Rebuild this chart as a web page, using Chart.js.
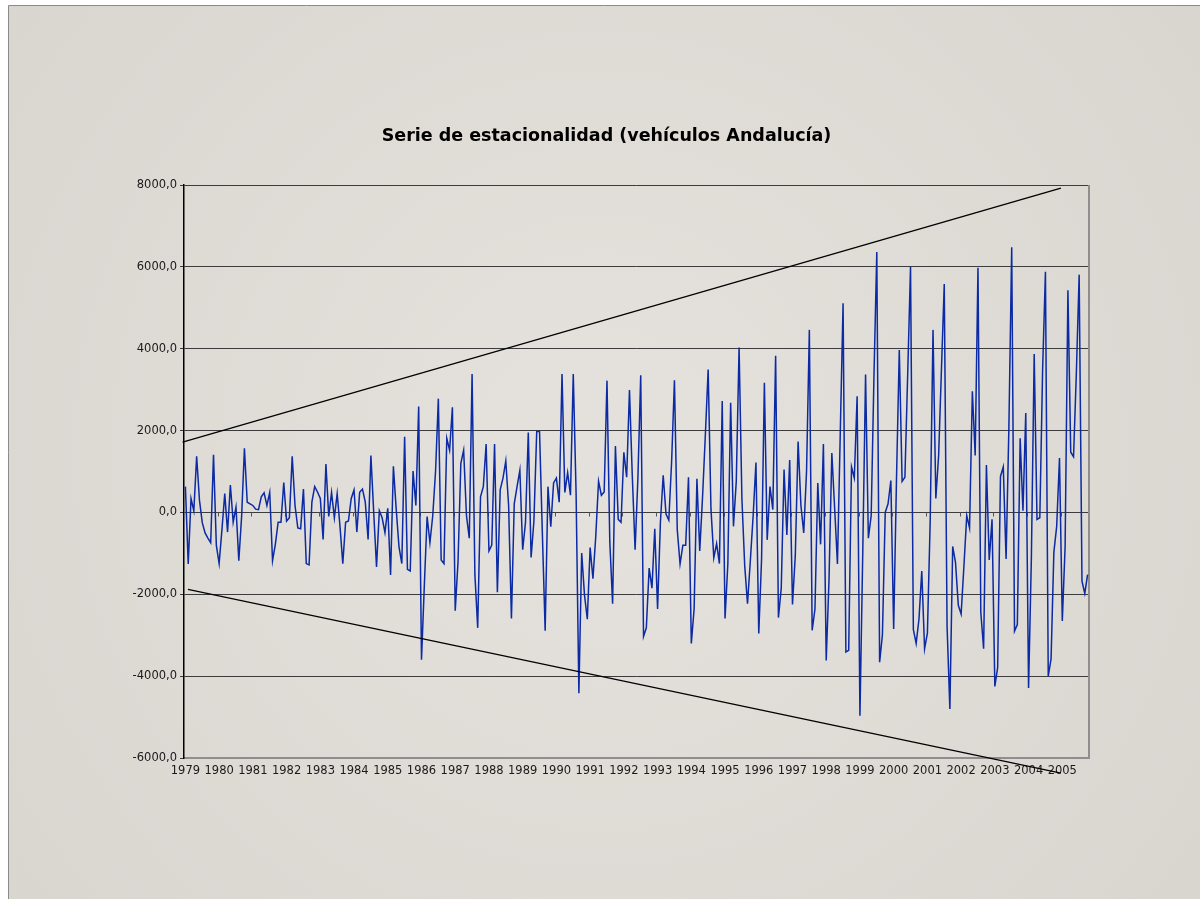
<!DOCTYPE html>
<html>
<head>
<meta charset="utf-8">
<script src="https://cdn.jsdelivr.net/npm/chart.js@4.4.1/dist/chart.umd.min.js"></script>
<style>
  html, body { margin: 0; padding: 0; background: #fff; }
  #wrap { width: 1200px; height: 899px; }
</style>
</head>
<body>
<div id="wrap"><canvas id="chart" width="1200" height="899"></canvas></div>
<script>
const years = [1979, 1980, 1981, 1982, 1983, 1984, 1985, 1986, 1987, 1988, 1989, 1990, 1991,
  1992, 1993, 1994, 1995, 1996, 1997, 1998, 1999, 2000, 2001, 2002, 2003, 2004, 2005];

// monthly seasonal component, Jan 1979 .. Oct 2005
const values = [
  630, -1260, 340, 40, 1370, 300, -250, -500, -630, -740, 1410, -800,
  -1250, -420, 460, -480, 670, -240, 130, -1180, -100, 1570, 250, 210,
  170, 80, 70, 380, 480, 170, 490, -1180, -780, -240, -240, 730,
  -210, -130, 1370, 170, -380, -400, 570, -1250, -1280, 250, 630, 500,
  340, -660, 1180, -100, 490, -130, 460, -340, -1250, -240, -210, 340,
  550, -480, 490, 570, 250, -660, 1390, 0, -1330, 40, -130, -490,
  100, -1530, 1130, 80, -840, -1250, 1850, -1390, -1430, 1010, 170, 2590,
  -3600, -1800, -100, -740, -80, 1000, 2780, -1160, -1250, 1810, 1520, 2570,
  -2400, -1200, 1200, 1520, -80, -630, 3380, -1520, -2820, 380, 630, 1670,
  -940, -800, 1670, -1950, 550, 840, 1260, 170, -2590, 210, 630, 1030,
  -910, -250, 1950, -1100, -210, 1980, 1980, -500, -2890, 630, -350, 720,
  840, 250, 3380, 490, 970, 420, 3380, 500, -4420, -990, -2020, -2610,
  -860, -1620, -590, 760, 420, 500, 3220, -720, -2230, 1620, -170, -240,
  1470, 860, 2990, 900, -910, 840, 3350, -3030, -2820, -1360, -1850, -400,
  -2360, -250, 910, -40, -190, 1250, 3230, -420, -1260, -800, -800, 860,
  -3200, -2360, 820, -940, 380, 1900, 3490, 80, -1110, -760, -1250, 2720,
  -2590, -1260, 2680, -340, 760, 4030, 340, -1300, -2230, -1180, -80, 1220,
  -2960, -1140, 3170, -670, 630, 70, 3830, -2570, -1850, 1050, -550, 1280,
  -2250, -1050, 1730, 170, -500, 1000, 4460, -2880, -2360, 720, -780, 1670,
  -3620, -1640, 1450, 100, -1260, 1940, 5110, -3410, -3370, 1110, 840, 2840,
  -4970, -1000, 3370, -630, -80, 3370, 6360, -3660, -2990, 0, 210, 780,
  -2850, 800, 3970, 760, 860, 3400, 6000, -2860, -3200, -2610, -1430, -3330,
  -2950, -200, 4460, 340, 1390, 3500, 5580, -2780, -4800, -830, -1220, -2270,
  -2480, -1310, -80, -380, 2960, 1390, 5980, -2440, -3330, 1160, -1160, -170,
  -4250, -3790, 880, 1110, -1140, 2100, 6480, -2900, -2740, 1810, 40, 2430,
  -4290, -1100, 3870, -170, -130, 3500, 5880, -4000, -3580, -970, -340, 1330,
  -2650, -840, 5430, 1470, 1360, 3400, 5810, -1680, -1980, -1520
];

const yTicks = [-6000, -4000, -2000, 0, 2000, 4000, 6000, 8000];

// hand drawn envelope lines: [month index, value]
const upperTrend = [[-1, 1720], [311.5, 7926]];
const lowerTrend = [[0.9, -1880], [311.5, -6370]];

const paper = {
  id: 'paper',
  beforeDraw(chart) {
    const c = chart.ctx;
    c.save();
    c.fillStyle = '#ffffff';
    c.fillRect(0, 0, chart.width, chart.height);
    const g = c.createRadialGradient(600, 450, 100, 600, 450, 800);
    g.addColorStop(0, '#e4e1dc');
    g.addColorStop(1, '#d8d5cf');
    c.fillStyle = g;
    c.fillRect(9, 6, chart.width - 9, chart.height - 6);
    c.strokeStyle = '#8a8a8a';
    c.lineWidth = 1;
    c.beginPath();
    c.moveTo(8.5, chart.height);
    c.lineTo(8.5, 5.5);
    c.lineTo(chart.width, 5.5);
    c.stroke();
    c.restore();
  }
};

const frame = {
  id: 'frame',
  beforeDatasetsDraw(chart) {
    const c = chart.ctx;
    const a = chart.chartArea;
    const x = chart.scales.x, y = chart.scales.y;
    c.save();
    c.strokeStyle = '#8e8e8e';
    c.lineWidth = 2;
    c.beginPath();
    c.moveTo(a.right, a.top);
    c.lineTo(a.right, a.bottom);
    c.stroke();
    // year tick marks on the zero line
    const y0 = Math.round(y.getPixelForValue(0)) + 0.5;
    c.strokeStyle = '#555';
    c.lineWidth = 1;
    c.beginPath();
    for (let i = 1; i < years.length; i++) {
      const px = Math.round(x.getPixelForValue(i * 12 - 0.5)) + 0.5;
      c.moveTo(px, y0);
      c.lineTo(px, y0 + 4);
    }
    c.stroke();
    c.restore();
  }
};

const axisFont = { family: 'DejaVu Sans', size: 11.5 };

new Chart(document.getElementById('chart'), {
  type: 'line',
  data: {
    datasets: [
      {
        data: values.map((v, i) => ({ x: i, y: v })),
        borderColor: '#0b2aa4',
        borderWidth: 1.5,
        pointRadius: 0,
        tension: 0,
        order: 2
      },
      {
        data: upperTrend.map(p => ({ x: p[0], y: p[1] })),
        borderColor: '#000',
        borderWidth: 1.3,
        pointRadius: 0,
        clip: false,
        order: 1
      },
      {
        data: lowerTrend.map(p => ({ x: p[0], y: p[1] })),
        borderColor: '#000',
        borderWidth: 1.3,
        pointRadius: 0,
        clip: false,
        order: 1
      }
    ]
  },
  options: {
    responsive: false,
    devicePixelRatio: 1,
    animation: false,
    layout: { padding: { top: 126, left: 124, right: 111, bottom: 111 } },
    plugins: {
      legend: { display: false },
      tooltip: { enabled: false },
      title: {
        display: true,
        text: 'Serie de estacionalidad (vehículos Andalucía)',
        color: '#000',
        font: { family: 'DejaVu Sans', size: 17.5, weight: 'bold' },
        padding: { top: 0, bottom: 38 }
      }
    },
    scales: {
      x: {
        type: 'linear',
        min: -0.5,
        max: values.length - 0.5,
        afterBuildTicks: s => { s.ticks = years.map((yr, i) => ({ value: i * 12 })); },
        afterFit: s => { s.height = 30; },
        ticks: {
          autoSkip: false,
          maxRotation: 0,
          padding: 6,
          color: '#1a1a1a',
          font: axisFont,
          callback: v => years[Math.round(v / 12)]
        },
        grid: { display: false, drawTicks: false },
        border: { display: true, color: '#8e8e8e', width: 2 }
      },
      y: {
        min: -6000,
        max: 8000,
        afterBuildTicks: s => { s.ticks = yTicks.map(v => ({ value: v })); },
        afterFit: s => { s.width = 60; },
        ticks: {
          padding: 3,
          color: '#1a1a1a',
          font: axisFont,
          callback: v => v.toFixed(1).replace('.', ',')
        },
        grid: { color: '#3c3c3c', lineWidth: 1, tickLength: 4 },
        border: { display: true, color: '#000', width: 1.5 }
      }
    }
  },
  plugins: [paper, frame]
});
</script>
</body>
</html>
